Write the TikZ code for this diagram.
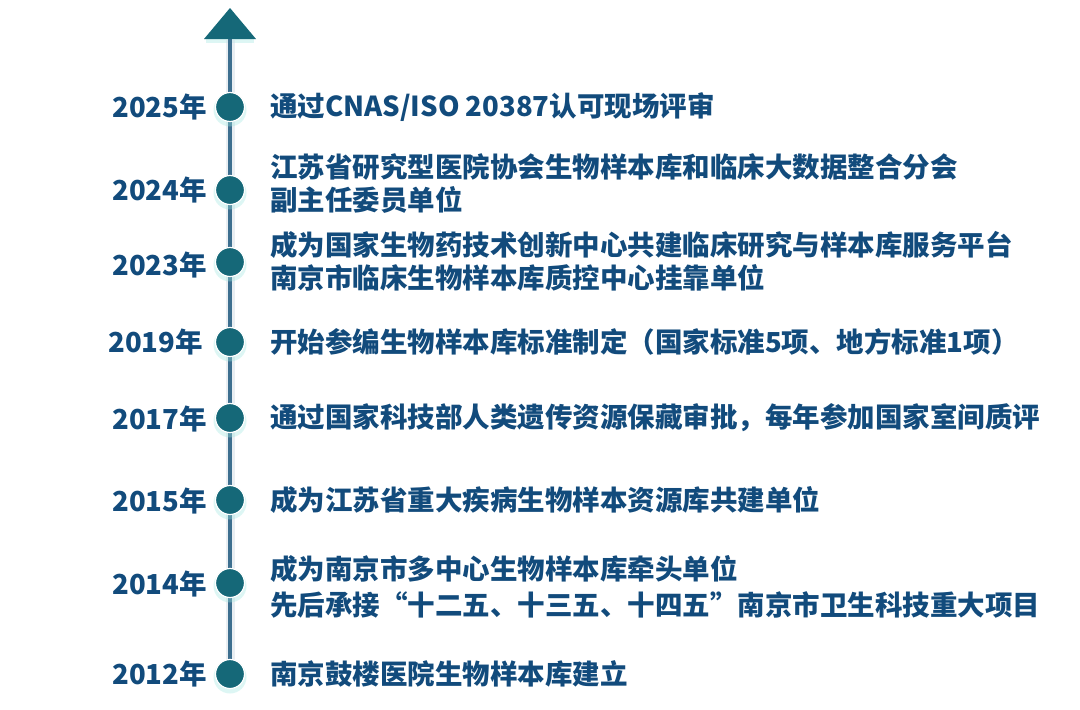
\documentclass[tikz,border=0pt]{standalone}
\usepackage{fontspec}
\newfontfamily\cjk{Noto Sans CJK SC}
\definecolor{txt}{HTML}{124B7C}
\definecolor{dotc}{HTML}{156878}
\definecolor{linec}{HTML}{3D6F8F}
\definecolor{glowc}{HTML}{9FE8E0}
\begin{document}
\begin{tikzpicture}[x=1pt,y=-1pt,
  year/.style={anchor=east,text=txt,font=\cjk\bfseries\fontsize{27.5}{32}\selectfont,inner sep=0pt},
  desc/.style={anchor=west,text=txt,font=\cjk\bfseries\fontsize{27.5}{32}\selectfont,inner sep=0pt},
  dotnode/.style={circle,fill=dotc,draw=white,line width=1.2pt,minimum size=29pt,inner sep=0pt},
  glow/.style={circle,fill=glowc,opacity=0.35,minimum size=33pt,inner sep=0pt}]
\useasboundingbox (0,0) rectangle (1080,710);
\fill[white] (0,0) rectangle (1080,710);
% glow under line and arrow
\fill[glowc,opacity=0.35] (206,39) rectangle (254,43);
\draw[linec!25,line width=9pt,opacity=0.45] (230,40) -- (230,674);
\coordinate (top) at (230,39);
\coordinate (bot) at (230,674);
\draw[linec,line width=3.5pt] (top) -- (bot);
\fill[dotc] (230,8) -- (256,39) -- (204,39) -- cycle;
% glows
\foreach \yy in {107,190,262,342,418,500,583,674}{
  \node[glow] at (230,\yy+3) {};
}
\node[dotnode] (d2025) at (230,107) {};
\node[dotnode] (d2024) at (230,190) {};
\node[dotnode] (d2023) at (230,262) {};
\node[dotnode] (d2019) at (230,342) {};
\node[dotnode] (d2017) at (230,418) {};
\node[dotnode] (d2015) at (230,500) {};
\node[dotnode] (d2014) at (230,583) {};
\node[dotnode] (d2012) at (230,674) {};
% years
\node[year] (y2025) at (207,107) {2025年};
\node[year] (y2024) at (207,190) {2024年};
\node[year] (y2023) at (207,265) {2023年};
\node[year] (y2019) at (203,342) {2019年};
\node[year] (y2017) at (207,419) {2017年};
\node[year] (y2015) at (207,501) {2015年};
\node[year] (y2014) at (207,584) {2014年};
\node[year] (y2012) at (207,674) {2012年};
% descriptions
\node[desc] (t2025) at (270,107) {通过CNAS/ISO 20387认可现场评审};
\node[desc] (t2024a) at (270,167) {江苏省研究型医院协会生物样本库和临床大数据整合分会};
\node[desc] (t2024b) at (270,200) {副主任委员单位};
\node[desc] (t2023a) at (270,245) {成为国家生物药技术创新中心共建临床研究与样本库服务平台};
\node[desc] (t2023b) at (270,278) {南京市临床生物样本库质控中心挂靠单位};
\node[desc] (t2019) at (270,342) {开始参编生物样本库标准制定（国家标准5项、地方标准1项）};
\node[desc] (t2017) at (270,418) {通过国家科技部人类遗传资源保藏审批，每年参加国家室间质评};
\node[desc] (t2015) at (270,500) {成为江苏省重大疾病生物样本资源库共建单位};
\node[desc] (t2014a) at (270,569) {成为南京市多中心生物样本库牵头单位};
\node[desc] (t2014b) at (270,605) {先后承接“十二五、十三五、十四五”南京市卫生科技重大项目};
\node[desc] (t2012) at (270,674) {南京鼓楼医院生物样本库建立};
\end{tikzpicture}
\end{document}
